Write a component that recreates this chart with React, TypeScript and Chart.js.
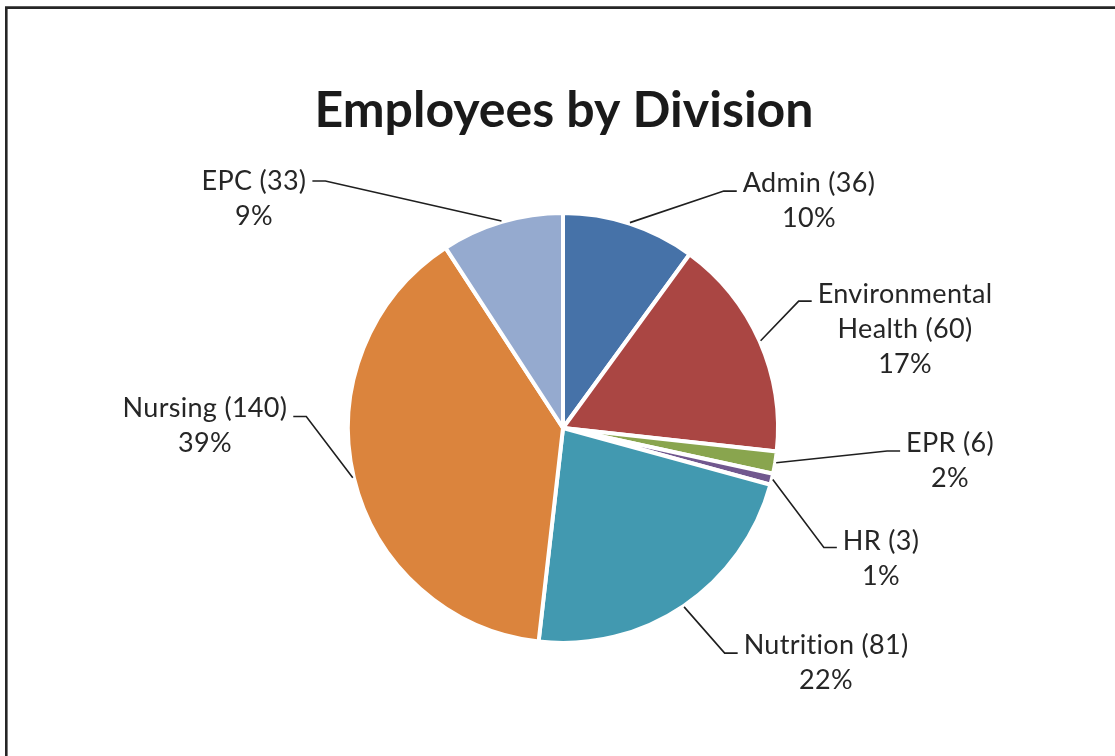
import React, { useEffect, useRef } from 'react';
import { Chart, registerables } from 'chart.js';

Chart.register(...registerables);

const chartTitle = 'Employees by Division';
const categoryLines: string[][] = [
  ['Admin'],
  ['Environmental', 'Health'],
  ['EPR'],
  ['HR'],
  ['Nutrition'],
  ['Nursing'],
  ['EPC'],
];
const values: number[] = [36, 60, 6, 3, 81, 140, 33];
const colors: string[] = ['#4672A8', '#AA4643', '#89A54E', '#71588F', '#4299B0', '#DB843D', '#95AACF'];

// label block centre relative to pie centre, in units of the pie radius
const labelPos: number[][] = [
  [1.155, -1.07],
  [1.606, -0.469],
  [1.817, 0.15],
  [1.493, 0.61],
  [1.235, 1.099],
  [-1.681, -0.014],
  [-1.451, -1.08],
];
// vertical offset of leader stub from first text line centre (px)
const stubDy: number[] = [8.5, 8, 8.5, 7, 8.5, 9, 0.5];

const FONT = 'Lato, "Open Sans", sans-serif';
const LINE_H = 35;

// percentages that add up to 100 (largest remainder), as the original shows
function percents(vals: number[]): number[] {
  const total = vals.reduce((a, b) => a + b, 0);
  const raw = vals.map((v) => (v / total) * 100);
  const floors = raw.map((r) => Math.floor(r));
  let left = 100 - floors.reduce((a, b) => a + b, 0);
  const order = raw.map((r, i) => [r - Math.floor(r), i]).sort((a, b) => b[0] - a[0]);
  for (let k = 0; k < order.length && left > 0; k++, left--) floors[order[k][1]] += 1;
  return floors;
}

const labelPlugin = {
  id: 'outLabels',
  afterDraw(chart: any) {
    const ctx: any = chart.ctx;
    const meta = chart.getDatasetMeta(0);
    const pct = percents(values);
    ctx.save();
    // frame
    ctx.strokeStyle = '#262626';
    ctx.lineWidth = 2.6;
    ctx.beginPath();
    ctx.moveTo(6.3, chart.height + 5);
    ctx.lineTo(6.3, 7.6);
    ctx.lineTo(chart.width + 5, 7.6);
    ctx.stroke();

    // title
    const first = meta.data[0];
    const cx = first.x;
    ctx.fillStyle = '#1a1a1a';
    ctx.font = `bold 50px ${FONT}`;
    ctx.textAlign = 'center';
    ctx.textBaseline = 'alphabetic';
    ctx.fillText(chartTitle, cx + 1, 127);

    ctx.font = `27px ${FONT}`;
    ctx.letterSpacing = '0.3px';
    meta.data.forEach((arc: any, i: number) => {
      const p = arc.getProps(['x', 'y', 'startAngle', 'endAngle', 'outerRadius'], true);
      const r = p.outerRadius;
      const mid = (p.startAngle + p.endAngle) / 2;
      const sx = p.x + Math.cos(mid) * (r + 1);
      const sy = p.y + Math.sin(mid) * (r + 1);
      const lines = categoryLines[i].slice();
      lines[lines.length - 1] = `${lines[lines.length - 1]} (${values[i]})`;
      lines.push(`${pct[i]}%`);
      const bx = p.x + labelPos[i][0] * (r - 2);
      const by = p.y + labelPos[i][1] * (r - 2);
      const firstY = by - ((lines.length - 1) * LINE_H) / 2;
      const w1 = ctx.measureText(lines[0]).width;
      const right = labelPos[i][0] > 0;
      const stubY = firstY + stubDy[i];
      const edge = right ? bx - w1 / 2 - 6 : bx + w1 / 2 + 6;
      const elbow = right ? edge - 13 : edge + 13;
      ctx.strokeStyle = '#1f1f1f';
      ctx.lineWidth = 1.6;
      ctx.beginPath();
      ctx.moveTo(sx, sy);
      ctx.lineTo(elbow, stubY);
      ctx.lineTo(edge, stubY);
      ctx.stroke();
      ctx.fillStyle = '#262626';
      ctx.textAlign = 'center';
      ctx.textBaseline = 'alphabetic';
      lines.forEach((t: string, k: number) => ctx.fillText(t, bx, firstY + 9.5 + k * LINE_H));
    });
    ctx.restore();
  },
};

export default function App() {
  const ref = useRef<HTMLCanvasElement>(null);
  useEffect(() => {
    document.body.style.margin = '0';
    const chart = new Chart(ref.current as HTMLCanvasElement, {
      type: 'pie',
      data: {
        labels: categoryLines.map((l) => l.join(' ')),
        datasets: [
          {
            data: values,
            backgroundColor: colors,
            borderColor: '#ffffff',
            borderWidth: 4,
          },
        ],
      },
      options: {
        responsive: true,
        maintainAspectRatio: false,
        animation: false,
        events: [],
        layout: { padding: { left: 346, right: 335, top: 211, bottom: 111 } },
        plugins: {
          legend: { display: false },
          tooltip: { enabled: false },
          title: { display: false },
        },
      },
      plugins: [labelPlugin],
    });
    return () => chart.destroy();
  }, []);
  return (
    <div style={{ position: 'relative', width: 1115, height: 756, background: '#fff' }}>
      <canvas ref={ref} />
    </div>
  );
}
